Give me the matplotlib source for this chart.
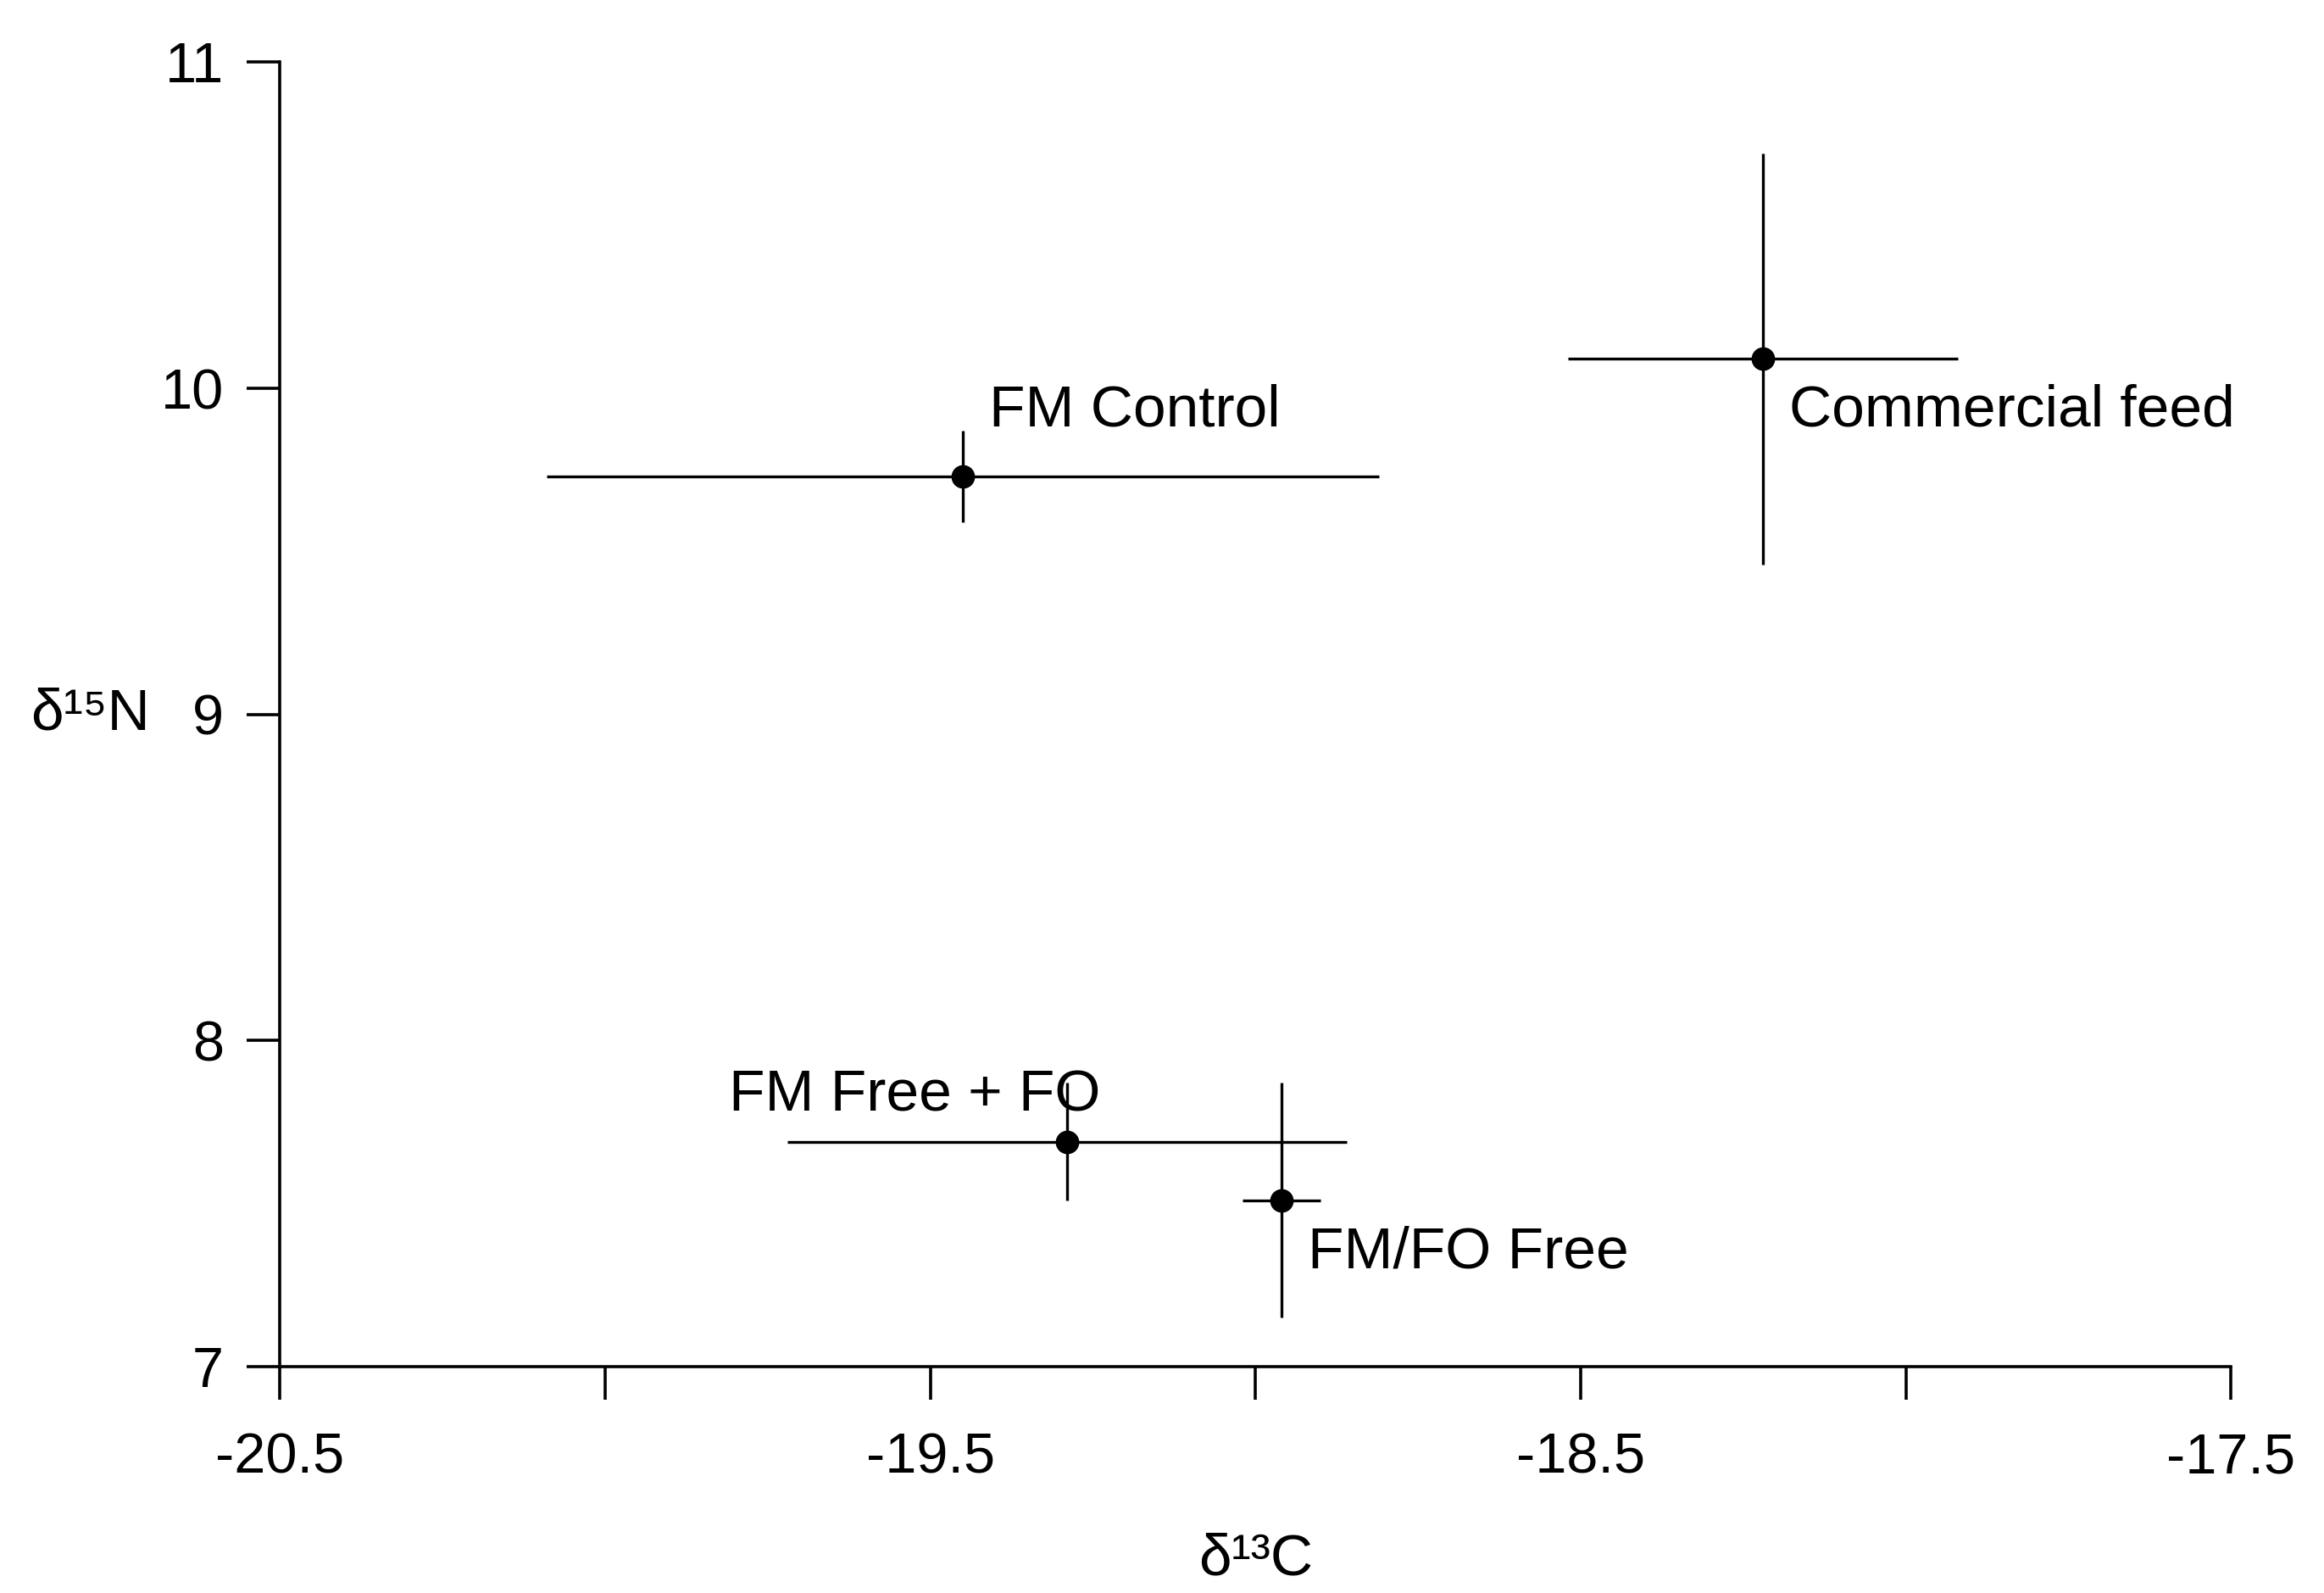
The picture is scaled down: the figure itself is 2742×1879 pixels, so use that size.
import matplotlib
matplotlib.use('Agg')
import matplotlib.pyplot as plt

plt.rcParams['font.family'] = ['Liberation Sans', 'DejaVu Sans']

# данные
names = ['FM Control', 'Commercial feed', 'FM Free + FO', 'FM/FO Free']
d13c = [-19.45, -18.22, -19.29, -18.96]
d13c_err = [0.64, 0.30, 0.43, 0.06]
d15n = [9.73, 10.09, 7.69, 7.51]
d15n_err = [0.14, 0.63, 0.18, 0.36]

# позиции подписей
label_pos = [(-19.41, 9.93, 'left'), (-18.18, 9.93, 'left'),
             (-19.81, 7.83, 'left'), (-18.92, 7.35, 'left')]

fig = plt.figure(figsize=(13.71, 9.395), dpi=200)
ax = fig.add_axes([0.1205, 0.142, 0.8395, 0.819])

ax.errorbar(d13c, d15n, xerr=d13c_err, yerr=d15n_err, fmt='o', color='black',
            markersize=9, elinewidth=1.2, capsize=0)

for (x, y, ha), name in zip(label_pos, names):
    ax.text(x, y, name, fontsize=25, ha=ha, va='center')

ax.set_xlim(-20.5, -17.5)
ax.set_ylim(7, 11)
ax.set_xticks([-20.5, -20.0, -19.5, -19.0, -18.5, -18.0, -17.5])
ax.set_xticklabels(['-20.5', '', '-19.5', '', '-18.5', '', '-17.5'])
ax.set_yticks([7, 8, 9, 10, 11])
ax.spines['top'].set_visible(False)
ax.spines['right'].set_visible(False)
for s in ['left', 'bottom']:
    ax.spines[s].set_linewidth(1.3)
ax.tick_params(axis='both', labelsize=24, width=1.3, length=14, direction='out')
ax.tick_params(axis='x', pad=14)
ax.tick_params(axis='y', pad=10)

ax.set_xlabel('δ¹³C', fontsize=25, labelpad=20)
ax.set_ylabel('δ¹⁵N', fontsize=25, rotation=0, labelpad=30, va='center')

fig.savefig('out.png', dpi=200)
